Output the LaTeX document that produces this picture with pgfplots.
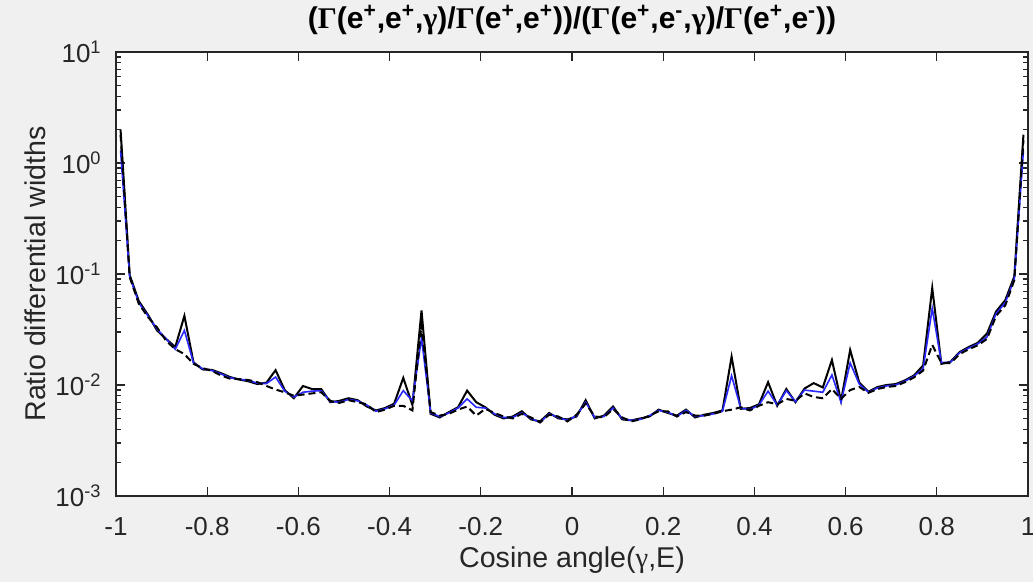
\documentclass[border=0pt]{standalone}
\usepackage{fontspec}
\setmainfont{Liberation Sans}
\newfontfamily\symf{Liberation Serif}
\newcommand{\sym}[1]{{\symf #1}}
\usepackage{pgfplots}
\usepackage{pgfplotstable}
\pgfplotsset{compat=1.18}

\definecolor{figbg}{HTML}{F0F0F0}
\definecolor{axcol}{HTML}{262626}
\definecolor{mblue}{RGB}{40,40,255}

% x: cosine bin centre, b: blue, k: black solid, d: black dashed
\pgfplotstableread{
x b k d
-0.99 1.30 2.00 1.80
-0.97 0.095 0.098 0.094
-0.95 0.055 0.057 0.054
-0.93 0.042 0.043 0.041
-0.91 0.032 0.031 0.033
-0.89 0.026 0.026 0.025
-0.87 0.021 0.022 0.021
-0.85 0.031 0.042 0.019
-0.83 0.0158 0.0160 0.0155
-0.81 0.0140 0.0138 0.0142
-0.79 0.0135 0.0137 0.0134
-0.77 0.0126 0.0128 0.0122
-0.75 0.0116 0.0118 0.0114
-0.73 0.0113 0.0112 0.0113
-0.71 0.0110 0.0108 0.0111
-0.69 0.0104 0.0102 0.0106
-0.67 0.0103 0.0105 0.0098
-0.65 0.0118 0.0136 0.0091
-0.63 0.0088 0.0090 0.0086
-0.61 0.0078 0.0076 0.0080
-0.59 0.0086 0.0098 0.0082
-0.57 0.0088 0.0092 0.0084
-0.55 0.0089 0.0092 0.0086
-0.53 0.0071 0.0070 0.0072
-0.51 0.0070 0.0072 0.0069
-0.49 0.0074 0.0076 0.0073
-0.47 0.0072 0.0073 0.0070
-0.45 0.0066 0.0064 0.0067
-0.43 0.0058 0.0059 0.0057
-0.41 0.0061 0.0062 0.0060
-0.39 0.0066 0.0068 0.0065
-0.37 0.0089 0.0116 0.0065
-0.35 0.0072 0.0066 0.0059
-0.33 0.0265 0.047 0.035
-0.31 0.0056 0.0055 0.0057
-0.29 0.0052 0.0051 0.0053
-0.27 0.0056 0.0057 0.0055
-0.25 0.0062 0.0063 0.0060
-0.23 0.0075 0.0089 0.0064
-0.21 0.0063 0.0070 0.0053
-0.19 0.0062 0.0063 0.0061
-0.17 0.0055 0.0054 0.0056
-0.15 0.0051 0.0050 0.0052
-0.13 0.0051 0.0052 0.0050
-0.11 0.0056 0.0058 0.0055
-0.09 0.0050 0.0049 0.0051
-0.07 0.0046 0.0047 0.0046
-0.05 0.0055 0.0056 0.0054
-0.03 0.0051 0.0050 0.0052
-0.01 0.0048 0.0049 0.0047
0.01 0.0053 0.0052 0.0054
0.03 0.0070 0.0073 0.0068
0.05 0.0051 0.0050 0.0052
0.07 0.0052 0.0053 0.0051
0.09 0.0062 0.0064 0.0061
0.11 0.0050 0.0049 0.0051
0.13 0.0048 0.0048 0.0047
0.15 0.0049 0.0050 0.0049
0.17 0.0053 0.0052 0.0053
0.19 0.0059 0.0060 0.0058
0.21 0.0057 0.0056 0.0058
0.23 0.0052 0.0053 0.0052
0.25 0.0059 0.0060 0.0057
0.27 0.0052 0.0051 0.0053
0.29 0.0053 0.0054 0.0053
0.31 0.0055 0.0056 0.0055
0.33 0.0058 0.0059 0.0058
0.35 0.0121 0.0180 0.0060
0.37 0.0062 0.0061 0.0063
0.39 0.0060 0.0062 0.0059
0.41 0.0066 0.0067 0.0065
0.43 0.0088 0.0106 0.0070
0.45 0.0066 0.0065 0.0067
0.47 0.0089 0.0092 0.0075
0.49 0.0071 0.0070 0.0072
0.51 0.0090 0.0093 0.0084
0.53 0.0088 0.0104 0.0078
0.55 0.0086 0.0095 0.0076
0.57 0.0123 0.0168 0.0092
0.59 0.0070 0.0072 0.0075
0.61 0.0158 0.0207 0.0090
0.63 0.0102 0.0105 0.0096
0.65 0.0086 0.0087 0.0085
0.67 0.0094 0.0096 0.0092
0.69 0.0098 0.0100 0.0096
0.71 0.0100 0.0102 0.0098
0.73 0.0108 0.0110 0.0106
0.75 0.0120 0.0122 0.0117
0.77 0.0140 0.0150 0.0135
0.79 0.049 0.075 0.023
0.81 0.0160 0.0155 0.0158
0.83 0.0160 0.0162 0.0157
0.85 0.0195 0.0198 0.0190
0.87 0.0215 0.0220 0.0210
0.89 0.0235 0.0240 0.0228
0.91 0.027 0.029 0.026
0.93 0.044 0.046 0.042
0.95 0.055 0.058 0.052
0.97 0.090 0.095 0.088
0.99 1.30 1.80 1.60
}\ratios

\begin{document}
\begin{tikzpicture}
\fill[figbg] (-58pt,-43pt) rectangle (458.5pt,248pt);
\useasboundingbox (-58pt,-43pt) rectangle (458.5pt,248pt);
\begin{axis}[
    at={(0,0)}, anchor=south west,
    scale only axis, width=456pt, height=222pt,
    xmin=-1, xmax=1,
    ymode=log, ymin=1e-3, ymax=10,
    axis background/.style={fill=white},
    axis line style={axcol, line width=0.6pt},
    every tick/.style={axcol, line width=0.6pt},
    tick align=inside,
    major tick length=4.5pt, minor tick length=2.5pt,
    xtick={-1,-0.8,-0.6,-0.4,-0.2,0,0.2,0.4,0.6,0.8,1},
    xticklabels={-1,-0.8,-0.6,-0.4,-0.2,0,0.2,0.4,0.6,0.8,1},
    ytick={1e-3,1e-2,1e-1,1,10},
    minor ytick={2e-3,3e-3,4e-3,5e-3,6e-3,7e-3,8e-3,9e-3,
                 2e-2,3e-2,4e-2,5e-2,6e-2,7e-2,8e-2,9e-2,
                 0.2,0.3,0.4,0.5,0.6,0.7,0.8,0.9,
                 2,3,4,5,6,7,8,9},
    yticklabels={10\textsuperscript{-3},10\textsuperscript{-2},10\textsuperscript{-1},10\textsuperscript{0},10\textsuperscript{1}},
    ticklabel style={font=\fontsize{13}{15}\selectfont, text=axcol},
    xticklabel style={anchor=center, inner sep=0pt, yshift=-15.5pt},
    yticklabel style={anchor=east, inner sep=0pt, xshift=-7pt},
    title={(\sym{Γ}(e\textsuperscript{+},e\textsuperscript{+},\sym{γ})/\sym{Γ}(e\textsuperscript{+},e\textsuperscript{+}))/(\sym{Γ}(e\textsuperscript{+},e\textsuperscript{-},\sym{γ})/\sym{Γ}(e\textsuperscript{+},e\textsuperscript{-}))},
    title style={at={(axis description cs:0.5,1.045)}, anchor=center, inner sep=0pt,
                 font=\fontsize{15}{18}\selectfont\bfseries, text=black},
    xlabel={Cosine angle(\sym{γ},E)},
    xlabel style={at={(axis description cs:0.5,-0.144)}, anchor=center, inner sep=0pt,
                  font=\fontsize{14.3}{17}\selectfont, text=axcol},
    ylabel={Ratio differential widths},
    ylabel style={at={(axis description cs:-0.088,0.5)}, anchor=center, inner sep=0pt,
                  font=\fontsize{14.3}{17}\selectfont, text=axcol},
  ]
  \addplot[black, line width=1pt] table[x=x, y=k] {\ratios};
  \addplot[mblue, line width=0.8pt] table[x=x, y=b] {\ratios};
  \addplot[black, line width=1pt, dash pattern=on 3.5pt off 2pt] table[x=x, y=d] {\ratios};
\end{axis}
\end{tikzpicture}
\end{document}
